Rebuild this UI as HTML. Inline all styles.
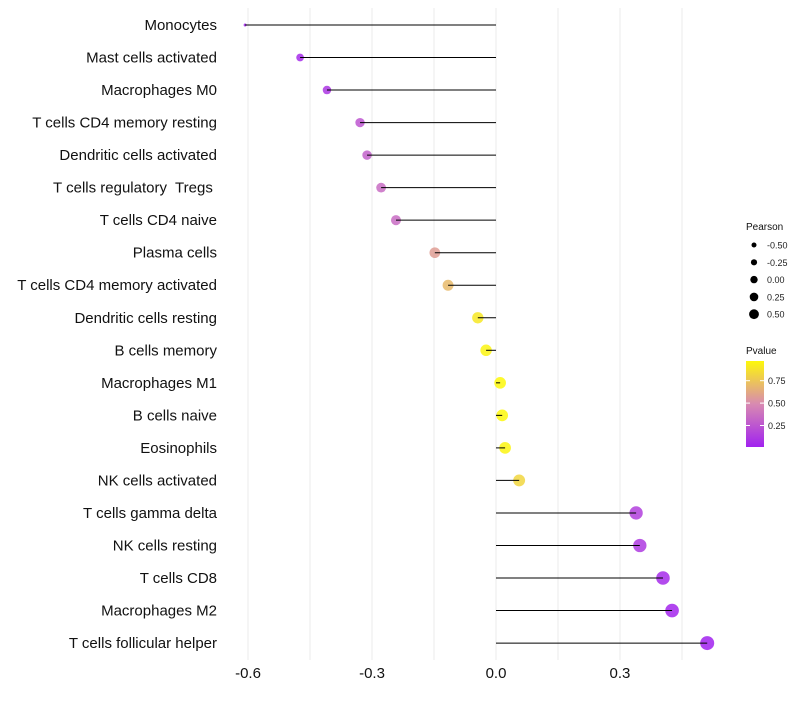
<!DOCTYPE html>
<html><head><meta charset="utf-8"><style>
body{margin:0;background:#fff;font-family:"Liberation Sans",sans-serif}
svg text{font-family:"Liberation Sans",sans-serif;white-space:pre}
</style></head><body>
<svg id="c" width="800" height="700"></svg>
<script>
const categories=["Monocytes","Mast cells activated","Macrophages M0","T cells CD4 memory resting","Dendritic cells activated","T cells regulatory  Tregs ","T cells CD4 naive","Plasma cells","T cells CD4 memory activated","Dendritic cells resting","B cells memory","Macrophages M1","B cells naive","Eosinophils","NK cells activated","T cells gamma delta","NK cells resting","T cells CD8","Macrophages M2","T cells follicular helper"];
const pearson=[-0.607,-0.474,-0.409,-0.329,-0.312,-0.278,-0.242,-0.148,-0.116,-0.044,-0.024,0.010,0.015,0.022,0.056,0.339,0.348,0.404,0.426,0.511];
const pvalue=[0.02,0.05,0.1,0.25,0.3,0.35,0.35,0.58,0.7,0.9,0.95,0.97,0.97,0.95,0.82,0.15,0.12,0.05,0.03,0.01];
const xTicks=[-0.6,-0.3,0.0,0.3];
const xTickLabels=["-0.6","-0.3","0.0","0.3"];
const xMinor=[-0.45,-0.15,0.15,0.45];
const sizeLegend=[-0.5,-0.25,0,0.25,0.5];
const sizeLegendLabels=["-0.50","-0.25","0.00","0.25","0.50"];
const pTicks=[0.25,0.5,0.75];
const NS="http://www.w3.org/2000/svg";
const svg=document.getElementById('c');
const x=v=>496+v*413.3;
const y=i=>25+i*32.53;
const pMinV=Math.min(...pearson),pMaxV=Math.max(...pearson);
const r=v=>1.5+5.5*Math.pow(Math.max(0,(v-pMinV)/(pMaxV-pMinV)),0.4);
function col(p){
  const stops=[[0,[160,32,240]],[0.5,[217,140,176]],[1,[255,255,0]]];
  let a=stops[0],b=stops[1];if(p>0.5){a=stops[1];b=stops[2];}
  const t=(p-a[0])/(b[0]-a[0]);
  return 'rgb('+a[1].map((c,k)=>Math.round(c+(b[1][k]-c)*t)).join(',')+')';
}
function el(t,at,txt){const e=document.createElementNS(NS,t);for(const k in at)e.setAttribute(k,at[k]);if(txt!==undefined)e.textContent=txt;svg.appendChild(e);return e;}
xMinor.concat(xTicks).forEach(v=>{
  const g=el('line',{x1:x(v),x2:x(v),y1:8,y2:660,stroke:'#ebebeb','stroke-width':1});
  
  
});
xTicks.forEach((v,i)=>{
  const t=el('text',{x:x(v),y:678,'text-anchor':'middle','font-size':15,fill:'#111'},xTickLabels[i]);
  
  
});
categories.forEach((c,i)=>{
  const t=el('text',{x:217,y:y(i)+5,'text-anchor':'end','font-size':15,fill:'#111'},c);
  
  
  const p=el('circle',{cx:x(pearson[i]),cy:y(i),r:r(pearson[i]),fill:col(pvalue[i]),'fill-opacity':0.85});
  
  
  const s=el('line',{x1:x(pearson[i]),x2:x(0),y1:y(i),y2:y(i),stroke:'#000','stroke-width':1});
  
  
});
const lt=el('text',{x:746,y:230,'font-size':10,fill:'#111'},'Pearson');


sizeLegend.forEach((v,i)=>{
  const cy=245+i*17.3;
  const c=el('circle',{cx:754,cy:cy,r:2.8+v*2.4+0.9,fill:'#000'});
  
  
  const t=el('text',{x:767,y:cy+3.5,'font-size':9,fill:'#222'},sizeLegendLabels[i]);
  
  
});
const pt=el('text',{x:746,y:354,'font-size':10,fill:'#111'},'Pvalue');


const defs=el('defs',{});
const lg=document.createElementNS(NS,'linearGradient');
lg.setAttribute('id','pg');lg.setAttribute('x1','0');lg.setAttribute('y1','1');lg.setAttribute('x2','0');lg.setAttribute('y2','0');
[[0,col(0.01)],[0.5,col(0.49)],[1,col(0.97)]].forEach(s=>{const st=document.createElementNS(NS,'stop');st.setAttribute('offset',s[0]);st.setAttribute('stop-color',s[1]);lg.appendChild(st);});
defs.appendChild(lg);
const pmin=0.01,pmax=0.97,pTop=361,pBot=447;
const py=p=>pBot-(p-pmin)/(pmax-pmin)*(pBot-pTop);
const bar=el('rect',{x:746,y:pTop,width:18,height:pBot-pTop,fill:'url(#pg)'});


pTicks.forEach(p=>{
  const l=el('line',{x1:746,x2:750,y1:py(p),y2:py(p),stroke:'#fff'});
  
  
  const l2=el('line',{x1:760,x2:764,y1:py(p),y2:py(p),stroke:'#fff'});
  
  
  const t=el('text',{x:768,y:py(p)+3.5,'font-size':9,fill:'#222'},p.toFixed(2));
  
  
});
</script>
</body></html>
